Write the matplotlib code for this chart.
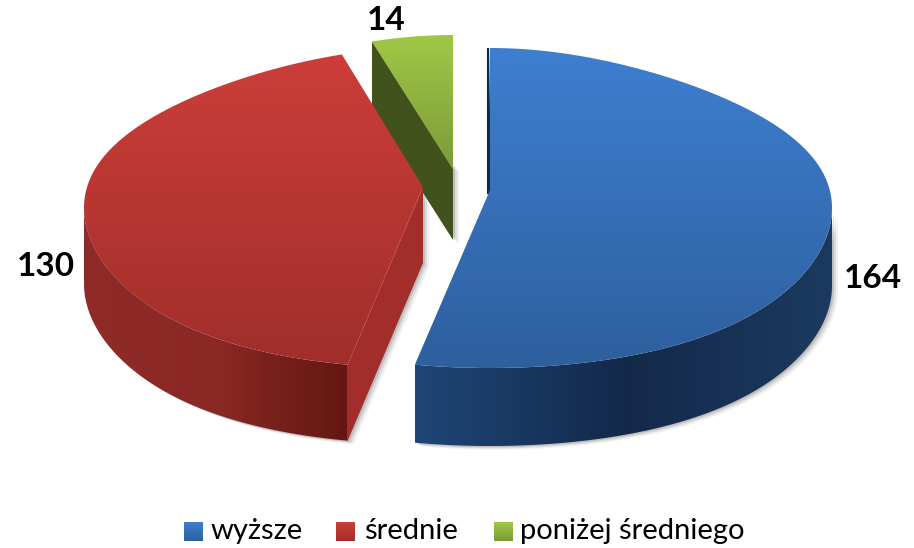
import numpy as np
import matplotlib
matplotlib.use('Agg')
import matplotlib.pyplot as plt
from matplotlib.colors import LinearSegmentedColormap
from matplotlib.patches import Polygon

# Datos de la grafica
categorias = ['wyższe', 'średnie', 'poniżej średniego']
valores = [164, 130, 14]

plt.rcParams['font.family'] = ['Lato', 'DejaVu Sans']

fig = plt.figure(figsize=(9.14, 5.48), dpi=100)
ax = fig.add_axes([0, 0, 1, 1])
ax.set_xlim(0, 914)
ax.set_ylim(548, 0)
ax.axis('off')

# Pie en "3D": centro de cada elipse, apice de la porcion y colores
RY, PERSP_ATRAS, PERSP_FRENTE = 160, 0.18, 0.09
radios_x = [342, 338, 342]
altos = [78, 76, 71]
centros = [(490, 208), (422, 208), (453, 195)]
apices = [(490, 190), (423, 187), (453, 169)]
sup_cols = [('#3E7FD0', '#2E5F9E'), ('#CC3E39', '#A02E2B'), ('#9FC846', '#7C9B38')]
pared_cols = [('#1F4677', '#13294A', '#1C3A60'), ('#8F2B28', '#8A2825', '#631710'), ('#3F5219', '#3F5219', '#3F5219')]
corte_cols = ['#13294A', '#A32D2A', '#42521C']


def punto(theta, c, rx):
    # theta en grados, horario desde arriba; lo de atras se encoge en x
    t = np.radians(theta)
    cos3 = np.cos(t) ** 3
    k = 1 - PERSP_ATRAS * cos3 if cos3 > 0 else 1 - PERSP_FRENTE * cos3
    return c[0] + rx * np.sin(t) * k, c[1] - RY * np.cos(t)


def pintar(verts, colores, vertical=True, zorder=2):
    # Rellena un poligono con degradado recortando una imagen
    verts = np.array(verts)
    x0, x1 = verts[:, 0].min(), verts[:, 0].max()
    y0, y1 = verts[:, 1].min(), verts[:, 1].max()
    mapa = LinearSegmentedColormap.from_list('g', colores)
    grad = np.linspace(0, 1, 256)
    grad = grad[:, None] if vertical else grad[None, :]
    im = ax.imshow(grad, cmap=mapa, extent=(x0, x1, y1, y0), aspect='auto', zorder=zorder, interpolation='bilinear')
    parche = Polygon(verts, closed=True, transform=ax.transData, fc='none', ec='none')
    ax.add_patch(parche)
    im.set_clip_path(parche)


def sombra(verts, zorder):
    verts = np.array(verts)
    for dx, a in [(6, 0.08), (4, 0.12), (2, 0.18)]:
        ax.add_patch(Polygon(verts + [dx, dx * 0.6], closed=True, fc='#404040', ec='none', alpha=a, zorder=zorder))


angulos = np.cumsum([0] + valores) / sum(valores) * 360

# Se dibuja de atras hacia adelante: verde, rojo, azul
for i in [2, 1, 0]:
    ini, fin = angulos[i], angulos[i + 1]
    c, ap, rx, alto = centros[i], apices[i], radios_x[i], altos[i]
    z = 2 + (2 - i) * 10
    th = np.linspace(ini, fin, 200)
    arco = [punto(t, c, rx) for t in th]

    def baja(p):
        return (p[0], p[1] + alto)

    # Pared exterior (solo la parte delantera)
    frente = th[(th >= 90) & (th <= 270)]
    if len(frente):
        sup = [punto(t, c, rx) for t in frente]
        pared = sup + [baja(p) for p in sup[::-1]]
        sombra(pared, z)
        pintar(pared, pared_cols[i], vertical=False, zorder=z + 1)

    # Paredes del corte
    p = arco[0]
    if i == 2 or i == 1:
        corte = [p, ap, baja(ap), baja(p)]
        sombra(corte, z)
        ax.add_patch(Polygon(corte, closed=True, fc=corte_cols[i], ec='none', zorder=z + 2))
    else:
        ax.add_patch(Polygon([(p[0] - 2, p[1]), ap, (ap[0] - 2, ap[1] + 4)], closed=True, fc=corte_cols[i], ec=corte_cols[i], lw=1.5, zorder=z + 2))

    # Cara superior
    pintar(arco + [ap], sup_cols[i], zorder=z + 3)

# Etiquetas de valores
pos_valores = [(873, 279), (46, 266), (386, 21)]
for v, (x, y) in zip(valores, pos_valores):
    ax.text(x, y, str(v), fontsize=24, fontweight='bold', color='black', ha='center', va='center', zorder=50)

# Leyenda
x_cuadros = [184, 336, 494]
x_textos = [211, 364, 520]
for i in range(len(categorias)):
    xc = x_cuadros[i]
    pintar([(xc, 522), (xc + 19, 522), (xc + 19, 541), (xc, 541)], sup_cols[i], zorder=50)
    ax.text(x_textos[i], 531, categorias[i], fontsize=21, color='black', ha='left', va='center', zorder=50)

ax.set_xlim(0, 914)
ax.set_ylim(548, 0)
fig.savefig('out.png', dpi=100, facecolor='white')
plt.close()
